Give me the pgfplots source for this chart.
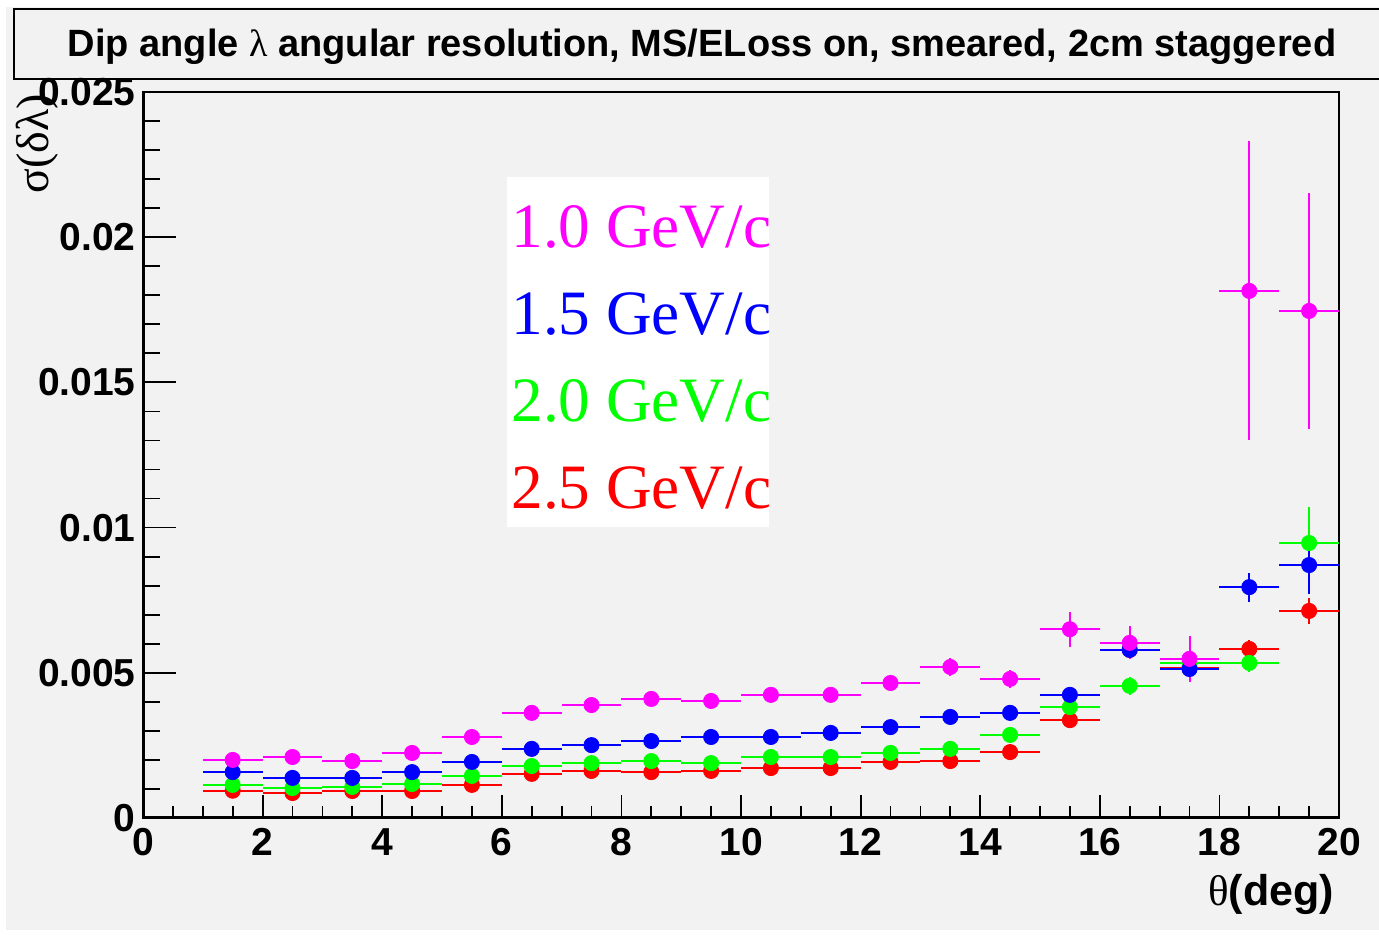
\documentclass[border=0pt]{standalone}
\usepackage{pgfplots}
\pgfplotsset{compat=1.18}
\usepackage{pgfplotstable}
\usepackage{fontspec}
\setmainfont{Liberation Sans}
\newfontfamily\serif{Liberation Serif}

\definecolor{canvas}{HTML}{F2F2F2}
\definecolor{cmag}{HTML}{FF00FF}
\definecolor{cblu}{HTML}{0000FF}
\definecolor{cgrn}{HTML}{00FF00}
\definecolor{cred}{HTML}{FF0000}

\newcommand\tickfont{\bfseries\fontsize{19.5}{20}\selectfont}

% theta bin centres, sigma, vertical error
\pgfplotstableread{
x y ey
1.5 0.00200 0.00025
2.5 0.00210 0.00025
3.5 0.00196 0.00025
4.5 0.00224 0.00025
5.5 0.00279 0.00025
6.5 0.00362 0.00025
7.5 0.00389 0.00025
8.5 0.00410 0.00025
9.5 0.00403 0.00025
10.5 0.00424 0.00025
11.5 0.00424 0.00025
12.5 0.00465 0.00025
13.5 0.00520 0.00030
14.5 0.00479 0.00030
15.5 0.00650 0.00060
16.5 0.00603 0.00057
17.5 0.00548 0.00080
18.5 0.01815 0.00515
19.5 0.01746 0.00405
}\pmag
\pgfplotstableread{
x y ey
1.5 0.00158 0.00020
2.5 0.00138 0.00020
3.5 0.00138 0.00020
4.5 0.00158 0.00020
5.5 0.00193 0.00020
6.5 0.00238 0.00020
7.5 0.00251 0.00020
8.5 0.00265 0.00020
9.5 0.00279 0.00020
10.5 0.00279 0.00020
11.5 0.00293 0.00020
12.5 0.00313 0.00020
13.5 0.00348 0.00020
14.5 0.00362 0.00020
15.5 0.00424 0.00020
16.5 0.00579 0.00030
17.5 0.00513 0.00030
18.5 0.00795 0.00050
19.5 0.00871 0.00100
}\pblu
\pgfplotstableread{
x y ey
1.5 0.00114 0.00020
2.5 0.00103 0.00020
3.5 0.00107 0.00020
4.5 0.00117 0.00020
5.5 0.00145 0.00020
6.5 0.00179 0.00020
7.5 0.00189 0.00020
8.5 0.00196 0.00020
9.5 0.00189 0.00020
10.5 0.00210 0.00020
11.5 0.00210 0.00020
12.5 0.00224 0.00020
13.5 0.00238 0.00020
14.5 0.00286 0.00020
15.5 0.00382 0.00020
16.5 0.00455 0.00030
17.5 0.00534 0.00030
18.5 0.00534 0.00030
19.5 0.00947 0.00124
}\pgrn
\pgfplotstableread{
x y ey
1.5 0.00094 0.00015
2.5 0.00086 0.00015
3.5 0.00093 0.00015
4.5 0.00093 0.00015
5.5 0.00114 0.00015
6.5 0.00152 0.00015
7.5 0.00162 0.00015
8.5 0.00158 0.00015
9.5 0.00162 0.00015
10.5 0.00172 0.00015
11.5 0.00172 0.00015
12.5 0.00193 0.00015
13.5 0.00196 0.00015
14.5 0.00227 0.00015
15.5 0.00337 0.00015
16.5 0.00579 0.00020
17.5 0.00517 0.00020
18.5 0.00582 0.00030
19.5 0.00713 0.00045
}\pred

\pgfplotsset{
  rootframe/.style={scale only axis, width=598pt, height=363pt,
    xmin=0, xmax=20, ymin=0, ymax=0.025, tick align=inside,
    scaled ticks=false,
    /pgf/number format/assume math mode=true},
  hist/.style={only marks, color=#1, mark=*, mark size=3.8pt,
    mark options={fill=#1, draw=#1},
    error bars/.cd, x dir=both, x fixed=0.5, y dir=both, y explicit,
    error mark=none, error bar style={line width=1pt, color=#1}},
}

\begin{document}
\begin{tikzpicture}
\useasboundingbox (-71.5pt,-61.5pt) rectangle (618pt,409pt);
\fill[canvas] (-68.5pt,-56pt) rectangle (620pt,405.5pt);
\filldraw[fill=canvas, draw=black, line width=1.1pt] (-64.5pt,369.5pt) rectangle (625pt,404.5pt);
\node[anchor=base, font=\bfseries\fontsize{19}{20}\selectfont] at (279.5pt,380.5pt)
  {Dip angle {\serif\mdseries λ} angular resolution, MS/ELoss on, smeared, 2cm staggered};

\begin{axis}[rootframe,
  axis line style={line width=1.1pt},
  xtick=\empty,
  ytick={0,0.005,0.01,0.015,0.02,0.025},
  yticklabels={0,0.005,0.01,0.015,0.02,0.025},
  minor y tick num=4,
  ytick pos=left,
  major tick length=16.5pt, minor tick length=8.5pt,
  every tick/.style={black, line width=0.9pt},
  yticklabel style={font=\tickfont, inner sep=0pt, xshift=-3.5pt},
  ]
\addplot[hist=cred] table[x=x, y=y, y error=ey] {\pred};
\addplot[hist=cgrn] table[x=x, y=y, y error=ey] {\pgrn};
\addplot[hist=cblu] table[x=x, y=y, y error=ey] {\pblu};
\addplot[hist=cmag] table[x=x, y=y, y error=ey] {\pmag};
\draw[line width=2pt] (rel axis cs:0,1) -- (rel axis cs:0,0) -- (rel axis cs:1,0);
\end{axis}

\begin{axis}[rootframe,
  axis line style={draw=none},
  ytick=\empty,
  xtick={0,2,...,20},
  xticklabels={0,2,4,6,8,10,12,14,16,18,20},
  minor x tick num=3,
  xtick pos=left,
  major tick length=11.5pt, minor tick length=6pt,
  every tick/.style={black, line width=0.9pt},
  xticklabel style={font=\tickfont, inner sep=0pt, yshift=-5pt},
  ]
\end{axis}

\node[rotate=90, anchor=base east, font=\serif\fontsize{23}{24}\selectfont] at (-47pt,365.5pt) {σ(δλ)};
\node[anchor=base east, font=\bfseries\fontsize{21.5}{22}\selectfont] at (599pt,-43.5pt) {{\serif\mdseries θ}(deg)};

\fill[white] (182pt,145.5pt) rectangle (313pt,320.5pt);
\begin{scope}[every node/.style={anchor=base west, inner sep=0pt, font=\serif\fontsize{31.6}{34}\selectfont}]
\node[text=cmag] at (184pt,285pt) {1.0 GeV/c};
\node[text=cblu] at (184pt,241.5pt) {1.5 GeV/c};
\node[text=cgrn] at (184pt,198pt) {2.0 GeV/c};
\node[text=cred] at (184pt,154.5pt) {2.5 GeV/c};
\end{scope}
\end{tikzpicture}
\end{document}
